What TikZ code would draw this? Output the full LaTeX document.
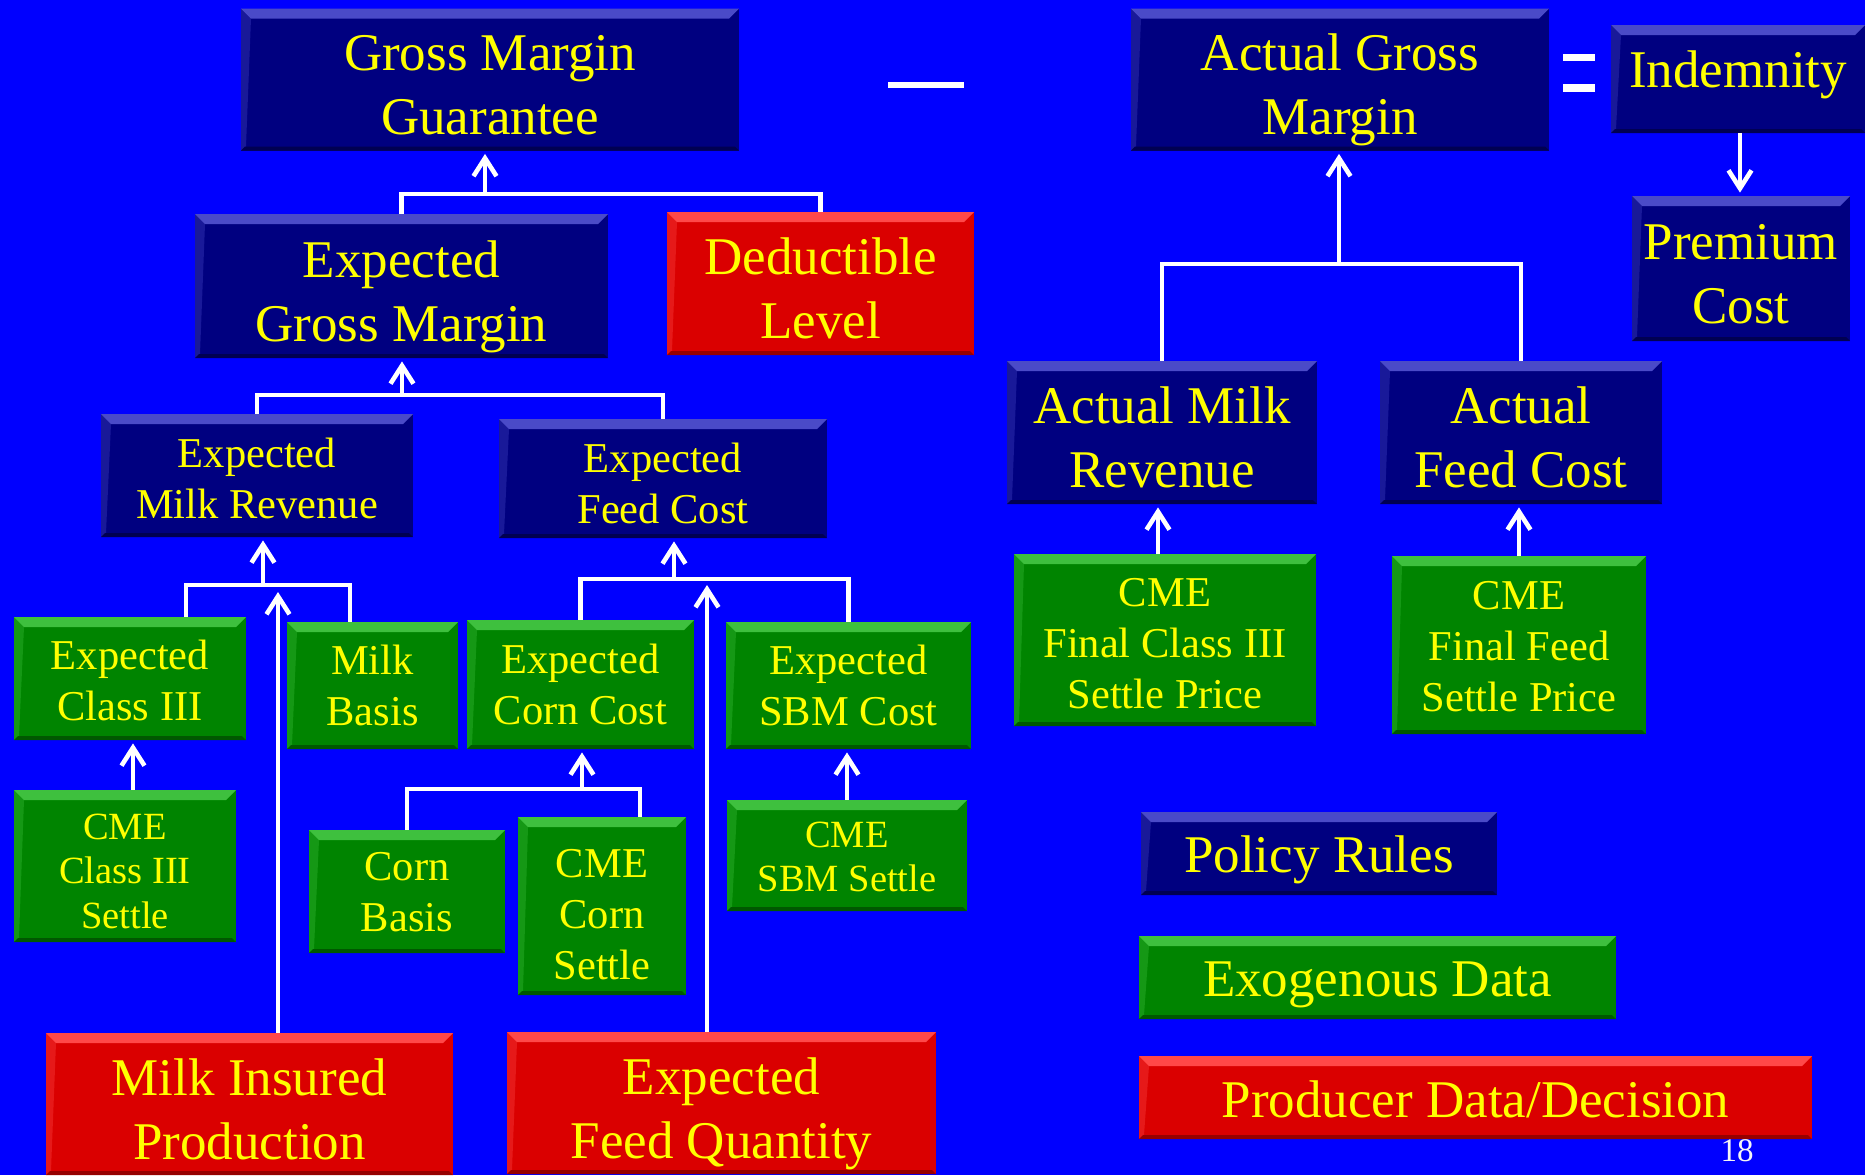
\documentclass[tikz,border=0pt]{standalone}
\usepackage{fontspec}
\setmainfont{Liberation Serif}
\usetikzlibrary{arrows.meta}

\definecolor{bg}{RGB}{0,0,255}
\definecolor{navy}{RGB}{0,0,128}
\definecolor{navyhi}{RGB}{74,74,200}
\definecolor{navylo}{RGB}{0,0,82}
\definecolor{grn}{RGB}{0,132,0}
\definecolor{grnhi}{RGB}{62,192,62}
\definecolor{grnlo}{RGB}{0,88,0}
\definecolor{rd}{RGB}{218,0,0}
\definecolor{rdhi}{RGB}{255,72,72}
\definecolor{rdlo}{RGB}{150,0,0}
\definecolor{ylw}{RGB}{255,255,0}

\tikzset{
  bevel/.style 2 args={path picture={
    \fill[#1] (path picture bounding box.north west) -- (path picture bounding box.north east)
      -- ([shift={(-5pt,-5pt)}]path picture bounding box.north east)
      -- ([shift={(5pt,-5pt)}]path picture bounding box.north west) -- cycle;
    \fill[#1, opacity=0.35] (path picture bounding box.north west)
      -- ([shift={(5pt,-5pt)}]path picture bounding box.north west)
      -- ([shift={(2.5pt,2pt)}]path picture bounding box.south west)
      -- (path picture bounding box.south west) -- cycle;
    \fill[#2] (path picture bounding box.south west) -- (path picture bounding box.south east)
      -- ([shift={(-2pt,2pt)}]path picture bounding box.south east)
      -- ([shift={(2pt,2pt)}]path picture bounding box.south west) -- cycle;
  }},
  % fixes the text block: height above last baseline, depth below it
  txt/.style 2 args={execute at begin node={\rule{0pt}{#1}},
    execute at end node={\rule[-#2]{0pt}{0pt}}},
  box/.style={inner sep=2pt, align=center, text=ylw},
  navybox/.style={box, fill=navy, bevel={navyhi}{navylo}},
  greenbox/.style={box, fill=grn, bevel={grnhi}{grnlo}},
  redbox/.style={box, fill=rd, bevel={rdhi}{rdlo}},
  sz/.style 2 args={minimum width=#1*0.5pt, minimum height=#2*0.5pt},
  big/.style={font=\fontsize{26.5}{32}\selectfont, txt={61pt}{6pt}},
  bigone/.style={font=\fontsize{26.5}{32}\selectfont, txt={25pt}{5.5pt}},
  mid/.style={font=\fontsize{21.25}{25.5}\selectfont, txt={45pt}{5.5pt}},
  midthree/.style={font=\fontsize{21.25}{25.5}\selectfont, txt={72pt}{6pt}},
  small/.style={font=\fontsize{19.25}{22.25}\selectfont, txt={41pt}{5pt}},
  smallthree/.style={font=\fontsize{19.25}{22.25}\selectfont, txt={67pt}{5pt}},
  wire/.style={draw=white, line width=2.3pt},
  feed/.style={wire, shorten >=1.5pt, -{Straight Barb[length=9pt,width=11.5pt]}},
}

\begin{document}
\begin{tikzpicture}[x=0.5pt, y=-0.5pt]
  % background, one unit = one pixel of the slide
  \fill[bg] (0,0) rectangle (1865,1175);
  \useasboundingbox (0,0) rectangle (1865,1175);

  % guarantee and actual margin
  \node[navybox, big, sz={498}{141}] (gmg) at (490,79.5) {Gross Margin\\Guarantee};
  \node[navybox, big, sz={418}{141}] (agm) at (1340,79.5) {Actual Gross\\Margin};
  \node[navybox, bigone, txt={25pt}{16.5pt}, sz={254}{108}] (ind) at (1738,79) {Indemnity};
  \node[navybox, big, sz={218}{145}] (prem) at (1741,268.5) {Premium\\Cost};
  \fill[white] (888,82) rectangle (964,88);
  \fill[white] (1563,54) rectangle (1595,61);
  \fill[white] (1563,84) rectangle (1595,92);

  \node[navybox, big, sz={413}{144}] (egm) at (401.5,286) {Expected\\Gross Margin};
  \node[redbox, big, sz={307}{143}] (ded) at (820.5,283.5) {Deductible\\Level};
  \node[navybox, mid, txt={48pt}{5.5pt}, sz={312}{123}] (emr) at (257,475.5) {Expected\\Milk Revenue};
  \node[navybox, mid, txt={50pt}{5.5pt}, sz={328}{117}] (efc) at (663,478.5) {Expected\\Feed Cost};
  \node[navybox, big, sz={310}{143}] (amr) at (1162,432.5) {Actual Milk\\Revenue};
  \node[navybox, big, sz={282}{143}] (afc) at (1521,432.5) {Actual\\Feed Cost};

  % exogenous inputs
  \node[greenbox, mid, txt={47pt}{5.5pt}, sz={232}{123}] (ec3) at (130,678.5) {Expected\\Class III};
  \node[greenbox, mid, sz={171}{127}] (mb) at (372.5,685.5) {Milk\\Basis};
  \node[greenbox, mid, sz={227}{129}] (ecc) at (580.5,684.5) {Expected\\Corn Cost};
  \node[greenbox, mid, sz={245}{127}] (esbm) at (848.5,685.5) {Expected\\SBM Cost};
  \node[greenbox, smallthree, sz={222}{152}] (cme3) at (125,866) {CME\\Class III\\Settle};
  \node[greenbox, mid, sz={196}{123}] (cb) at (407,891.5) {Corn\\Basis};
  \node[greenbox, midthree, txt={79pt}{6pt}, sz={168}{168}] (cmec) at (602,906) {CME\\Corn\\Settle};
  \node[greenbox, small, sz={240}{111}] (cmesbm) at (847,855.5) {CME\\SBM Settle};
  \node[greenbox, midthree, txt={74pt}{6pt}, sz={302}{172}] (cfc3) at (1165,640) {CME\\Final Class III\\Settle Price};
  \node[greenbox, midthree, sz={254}{178}] (cff) at (1519,645) {CME\\Final Feed\\Settle Price};

  % producer inputs
  \node[redbox, big, sz={407}{142}] (mip) at (249.5,1104) {Milk Insured\\Production};
  \node[redbox, big, sz={429}{142}] (efq) at (721.5,1103) {Expected\\Feed Quantity};

  % legend
  \node[navybox, bigone, sz={356}{83}] (pol) at (1319,853.5) {Policy Rules};
  \node[greenbox, bigone, sz={477}{83}] (exo) at (1377.5,977.5) {Exogenous Data};
  \node[redbox, bigone, sz={673}{83}] (prod) at (1475.5,1097.5) {Producer Data/Decision};
  \node[text=white!92!gray, font=\fontsize{16.5}{18}\selectfont] (pg) at (1737,1151) {18};

  % connectors
  \coordinate (j1) at (485,194);
  \draw[wire] (egm.north) |- (j1) -| (ded.north);
  \draw[feed] (j1) -- (j1 |- gmg.south);

  \coordinate (j2) at (402,395);
  \draw[wire] (emr.north) |- (j2) -| (efc.north);
  \draw[feed] (j2) -- (j2 |- egm.south);

  \coordinate (j3) at (1339,264);
  \draw[wire] (amr.north) |- (j3) -| (afc.north);
  \draw[feed] (j3) -- (j3 |- agm.south);

  \coordinate (indb) at ([xshift=1pt]ind.south);
  \draw[feed] (indb) -- (indb |- prem.north);

  \coordinate (j4) at (263,585);
  \draw[wire] ([xshift=28pt]ec3.north) |- (j4) -| ([xshift=-11.25pt]mb.north);
  \draw[feed] (j4) -- (j4 |- emr.south);
  \coordinate (mipend) at (278,592);
  \draw[feed, shorten >=0pt] (mipend |- mip.north) -- (mipend);

  \coordinate (j5) at (674,579);
  \draw[wire] (ecc.north) |- (j5) -| (esbm.north);
  \draw[feed] (j5) -- (j5 |- efc.south);
  \coordinate (efqend) at (707,585);
  \draw[feed, shorten >=0pt] (efqend |- efq.north) -- (efqend);

  \coordinate (j6) at (582,789);
  \draw[wire] (cb.north) |- (j6) -| ([xshift=19pt]cmec.north);
  \draw[feed] (j6) -- (j6 |- ecc.south);

  \coordinate (c3t) at ([xshift=4pt]cme3.north);
  \draw[feed] (c3t) -- (c3t |- ec3.south);
  \draw[feed] (cmesbm.north) -- (cmesbm.north |- esbm.south);
  \coordinate (cft) at ([xshift=-3.5pt]cfc3.north);
  \draw[feed] (cft) -- (cft |- amr.south);
  \draw[feed] (cff.north) -- (cff.north |- afc.south);
\end{tikzpicture}
\end{document}
